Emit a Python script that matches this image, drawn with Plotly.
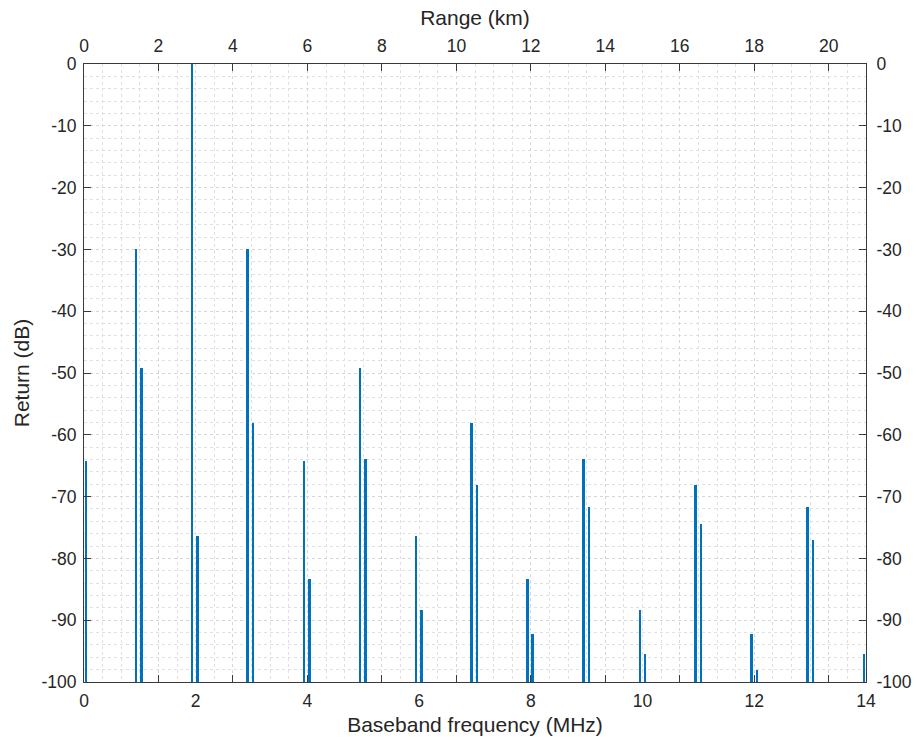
import numpy as np
import plotly.graph_objects as go

# Spectral lines of the beat signal: baseband frequency (MHz) and return level (dB)
freq_mhz = [0.03,
            0.93, 1.03, 1.93, 2.03, 2.93, 3.03, 3.94, 4.04, 4.94, 5.04,
            5.94, 6.04, 6.94, 7.04, 7.94, 8.03, 8.94, 9.04, 9.95, 10.04,
            10.95, 11.05, 11.95, 12.05, 12.95, 13.05, 13.96]
return_db = [-64.3,
             -30.0, -49.2, 0.0, -76.3, -30.0, -58.1, -64.3, -83.3, -49.2, -63.9,
             -76.3, -88.3, -58.1, -68.2, -83.3, -92.2, -63.9, -71.7, -88.3, -95.4,
             -68.2, -74.5, -92.2, -98.0, -71.7, -77.0, -95.4]

# Axis limits and ticks
freq_range = [0, 14]
freq_ticks = [0, 2, 4, 6, 8, 10, 12, 14]
range_km_limits = [0, 21]
range_ticks = [0, 2, 4, 6, 8, 10, 12, 14, 16, 18, 20]
db_floor = -100
db_ticks = [0, -10, -20, -30, -40, -50, -60, -70, -80, -90, -100]
db_tick_text = [str(v) for v in db_ticks]  # plain hyphen-minus labels

BLUE = "#0072BD"
AXIS = "#3a3a3a"
TEXT = "#262626"
GRID = "#d6d6d6"
GRID_MINOR = "#e0e0e0"
FONT = "Liberation Sans, Arial, Helvetica, sans-serif"

freq = np.asarray(freq_mhz)
level = np.asarray(return_db)

fig = go.Figure()

# Stems rising from the noise floor to each return level
fig.add_trace(go.Bar(
    x=freq, y=level - db_floor, base=db_floor, width=0.042,
    marker=dict(color=BLUE, line=dict(width=0)),
    xaxis="x", yaxis="y", showlegend=False,
    hovertemplate="%{x:.2f} MHz<br>%{customdata:.1f} dB<extra></extra>",
    customdata=level,
))

# Companion axes: range in km (top) and a duplicate dB scale (right)
fig.add_trace(go.Scatter(
    x=range_km_limits, y=[db_floor, db_floor], mode="lines",
    line=dict(width=0), opacity=0, hoverinfo="skip", showlegend=False,
    xaxis="x2", yaxis="y2",
))

tick_font = dict(family=FONT, size=17.5, color=TEXT)
title_font = dict(family=FONT, size=21, color=TEXT)

fig.update_layout(
    width=917, height=741,
    margin=dict(l=84, r=51, t=64, b=59, autoexpand=False),
    paper_bgcolor="white", plot_bgcolor="white",
    bargap=0,
    xaxis=dict(
        range=freq_range, tickmode="array", tickvals=freq_ticks,
        ticks="", showgrid=False, zeroline=False, automargin=False,
        showline=True, linecolor=AXIS, linewidth=1,
        tickfont=tick_font, ticklabelstandoff=3,
        title=dict(text="Baseband frequency (MHz)", font=title_font, standoff=7),
    ),
    xaxis2=dict(
        range=range_km_limits, overlaying="x", side="top", automargin=False,
        tickmode="array", tickvals=range_ticks,
        ticks="inside", ticklen=7, tickcolor=AXIS, mirror="ticks",
        showline=True, linecolor=AXIS, linewidth=1,
        showgrid=True, gridcolor=GRID, griddash="dot", gridwidth=1,
        minor=dict(dtick=0.5, tick0=0, showgrid=True, gridcolor=GRID_MINOR,
                   griddash="dot", gridwidth=1, ticks=""),
        zeroline=False, tickfont=tick_font, ticklabelstandoff=4,
        title=dict(text="Range (km)", font=title_font, standoff=4),
    ),
    yaxis=dict(
        range=[db_floor, 0], tickmode="array", tickvals=db_ticks,
        ticktext=db_tick_text, automargin=False,
        ticks="inside", ticklen=7, tickcolor=AXIS,
        showline=True, linecolor=AXIS, linewidth=1,
        showgrid=True, gridcolor=GRID, griddash="dot", gridwidth=1,
        minor=dict(dtick=2, tick0=0, showgrid=True, gridcolor=GRID_MINOR,
                   griddash="dot", gridwidth=1, ticks=""),
        zeroline=False, tickfont=tick_font, ticklabelstandoff=3,
        title=dict(text="Return (dB)", font=title_font, standoff=6),
    ),
    yaxis2=dict(
        range=[db_floor, 0], overlaying="y", side="right", automargin=False,
        tickmode="array", tickvals=db_ticks, ticktext=db_tick_text,
        ticks="inside", ticklen=7, tickcolor=AXIS,
        showline=True, linecolor=AXIS, linewidth=1,
        showgrid=False, zeroline=False, tickfont=tick_font,
        ticklabelstandoff=6,
    ),
)

fig.write_html("out.html")
